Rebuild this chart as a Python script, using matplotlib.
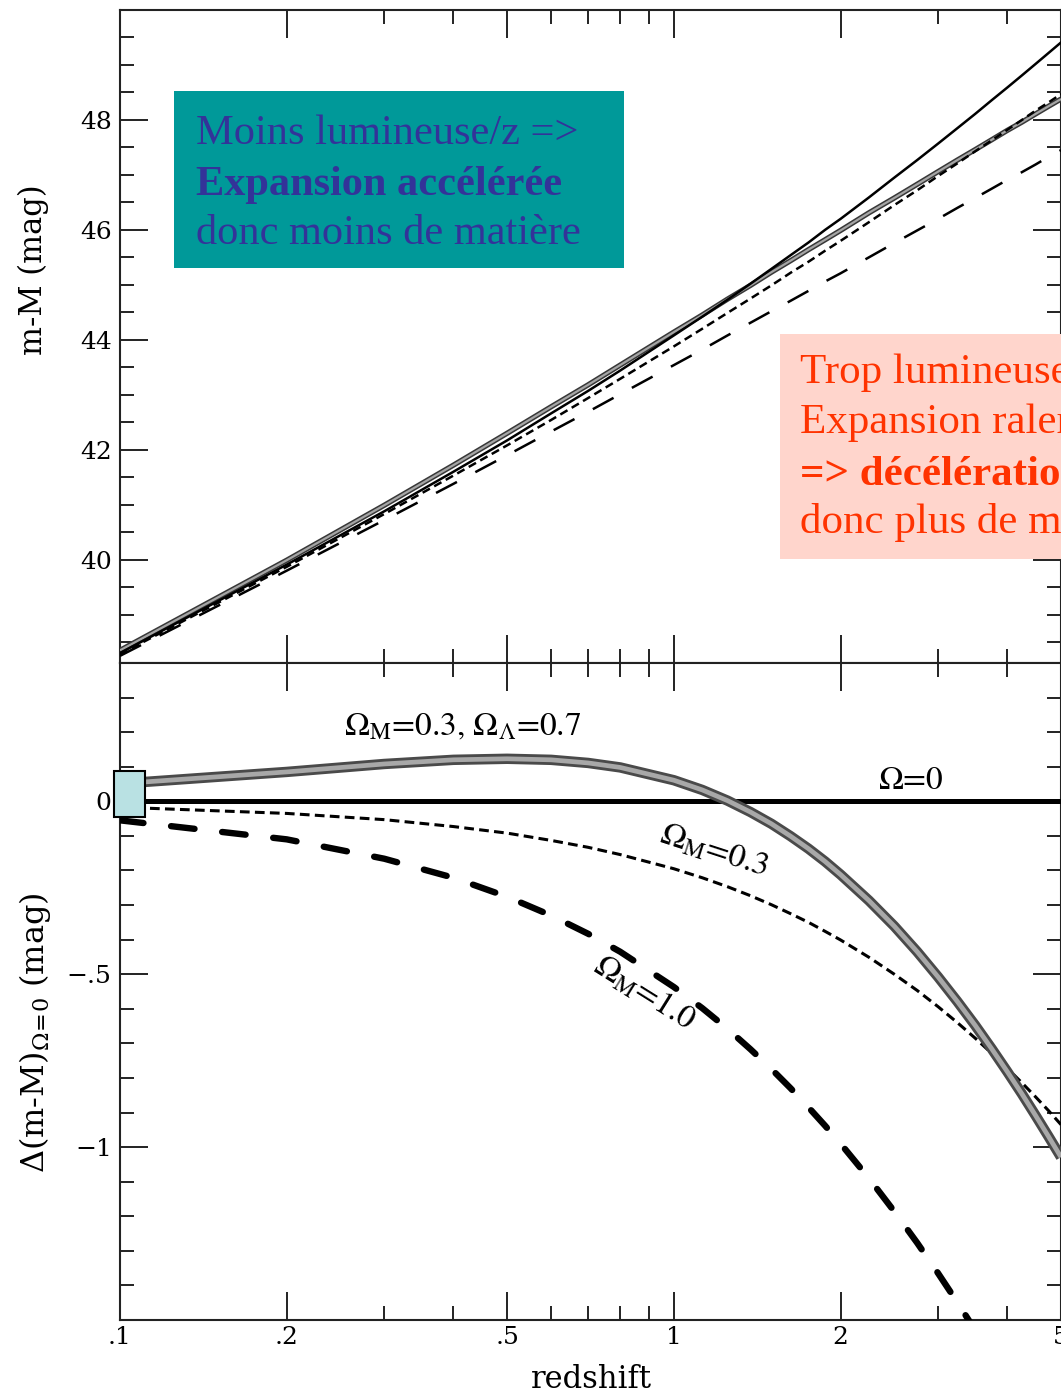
import matplotlib
matplotlib.use('Agg')
import matplotlib.pyplot as plt
from matplotlib.patches import Rectangle
from matplotlib.ticker import FixedLocator, FixedFormatter, NullFormatter

plt.rcParams['lines.scale_dashes'] = False

# ---------------- data ----------------
z = [0.1, 0.2, 0.3, 0.4, 0.5, 0.6, 0.7, 0.8, 1.0, 1.125, 1.25, 1.375, 1.5, 1.625,
     1.75, 1.875, 2.0, 2.25, 2.5, 2.75, 3.0, 3.25, 3.5, 3.75, 4.0, 4.25, 4.5, 4.75, 5.0]

# top panel: distance modulus m-M
mM_empty = [38.30, 39.91, 40.88, 41.60, 42.17, 42.66, 43.07, 43.44, 44.08, 44.42,
            44.73, 45.02, 45.29, 45.54, 45.77, 46.00, 46.20, 46.59, 46.95, 47.27,
            47.57, 47.85, 48.11, 48.36, 48.59, 48.81, 49.02, 49.22, 49.41]
mM_lcdm = [38.35, 39.99, 40.99, 41.72, 42.30, 42.78, 43.18, 43.54, 44.14, 44.45,
           44.74, 44.99, 45.23, 45.44, 45.64, 45.82, 45.99, 46.31, 46.58, 46.83,
           47.06, 47.27, 47.46, 47.64, 47.81, 47.96, 48.11, 48.25, 48.38]
mM_open = [38.28, 39.87, 40.83, 41.53, 42.08, 42.54, 42.94, 43.29, 43.88, 44.20,
           44.49, 44.75, 44.99, 45.22, 45.42, 45.62, 45.80, 46.14, 46.45, 46.72,
           46.98, 47.21, 47.43, 47.63, 47.82, 48.00, 48.17, 48.32, 48.47]
mM_flat = [38.25, 39.80, 40.72, 41.38, 41.90, 42.33, 42.69, 43.01, 43.54, 43.82,
           44.08, 44.31, 44.52, 44.71, 44.89, 45.06, 45.21, 45.50, 45.76, 45.99,
           46.20, 46.40, 46.58, 46.75, 46.91, 47.05, 47.19, 47.33, 47.45]

# bottom panel: difference to the empty (Omega=0) universe
z_empty = [0.1, 5.0]
dm_empty = [0.0, 0.0]
dm_lcdm = [0.051, 0.085, 0.108, 0.120, 0.123, 0.120, 0.111, 0.098, 0.061, 0.033,
           0.002, -0.031, -0.065, -0.101, -0.137, -0.174, -0.212, -0.287, -0.361,
           -0.435, -0.508, -0.579, -0.648, -0.716, -0.782, -0.846, -0.909, -0.970, -1.029]
dm_open = [-0.017, -0.035, -0.053, -0.073, -0.092, -0.113, -0.133, -0.154, -0.195,
           -0.221, -0.247, -0.273, -0.299, -0.325, -0.350, -0.376, -0.401, -0.451,
           -0.500, -0.547, -0.594, -0.640, -0.685, -0.729, -0.772, -0.814, -0.855,
           -0.895, -0.935]
dm_flat = [-0.055, -0.110, -0.166, -0.221, -0.276, -0.330, -0.383, -0.435, -0.537,
           -0.598, -0.658, -0.717, -0.774, -0.830, -0.885, -0.938, -0.990, -1.090,
           -1.186, -1.277, -1.365, -1.449, -1.530, -1.608, -1.683, -1.756, -1.826,
           -1.893, -1.959]

# low-redshift data box
box_z = [0.0975, 0.111]
box_dm = [-0.046, 0.087]

# ticks
x_major = [0.1, 0.2, 0.5, 1, 2, 5]
x_major_labels = ['.1', '.2', '.5', '1', '2', '5']
x_minor = [0.3, 0.4, 0.6, 0.7, 0.8, 0.9, 3, 4]
y1_major = [40, 42, 44, 46, 48]
y1_major_labels = ['40', '42', '44', '46', '48']
y1_minor = [38.5, 39, 39.5, 40.5, 41, 41.5, 42.5, 43, 43.5, 44.5, 45, 45.5,
            46.5, 47, 47.5, 48.5, 49, 49.5]
y2_major = [-1.0, -0.5, 0.0]
y2_major_labels = ['\u22121', '\u2212.5', '0']
y2_minor = [-1.4, -1.3, -1.2, -1.1, -0.9, -0.8, -0.7, -0.6, -0.4, -0.3, -0.2,
            -0.1, 0.1, 0.2, 0.3]

# ---------------- layout ----------------
W, H = 1061, 1395
fig = plt.figure(figsize=(W / 100, H / 100), dpi=100)


def fx(x):
    return x / W


def fy(y):
    return 1 - y / H


L, R = 120, 1061
ax1 = fig.add_axes([fx(L), fy(663), fx(R) - fx(L), fy(10) - fy(663)])
ax2 = fig.add_axes([fx(L), fy(1320), fx(R) - fx(L), fy(663) - fy(1320)])

for ax in (ax1, ax2):
    ax.set_xscale('log')
    ax.set_xlim(0.1, 5)
    ax.xaxis.set_major_locator(FixedLocator(x_major))
    ax.xaxis.set_minor_locator(FixedLocator(x_minor))
    ax.xaxis.set_minor_formatter(NullFormatter())
    ax.tick_params(which='both', direction='in', top=True, right=True,
                   width=1.4, color='#222222')
    ax.tick_params(which='major', length=20)
    ax.tick_params(which='minor', length=10)
    ax.tick_params(axis='y', pad=6)
    ax.tick_params(axis='x', pad=4)
    for s in ax.spines.values():
        s.set_linewidth(1.5)
        s.set_color('#222222')

# top panel
ax1.set_ylim(38.12, 50)
ax1.yaxis.set_major_locator(FixedLocator(y1_major))
ax1.yaxis.set_major_formatter(FixedFormatter(y1_major_labels))
ax1.yaxis.set_minor_locator(FixedLocator(y1_minor))
ax1.xaxis.set_major_formatter(NullFormatter())

ax1.plot(z, mM_lcdm, color='#383838', lw=3.8, solid_capstyle='butt', zorder=3)
ax1.plot(z, mM_lcdm, color='#a5a5a5', lw=1.6, solid_capstyle='butt', zorder=3.1)
ax1.plot(z, mM_open, color='black', lw=1.8, dashes=(6, 3.5), zorder=3.5)
ax1.plot(z, mM_flat, color='black', lw=1.8, dashes=(17, 15), zorder=3.5)
ax1.plot(z, mM_empty, color='black', lw=1.8, zorder=4)

# bottom panel
ax2.set_ylim(-1.5, 0.4)
ax2.yaxis.set_major_locator(FixedLocator(y2_major))
ax2.yaxis.set_major_formatter(FixedFormatter(y2_major_labels))
ax2.yaxis.set_minor_locator(FixedLocator(y2_minor))
ax2.xaxis.set_major_formatter(FixedFormatter(x_major_labels))

ax2.plot(z_empty, dm_empty, color='black', lw=3.6, zorder=3)
ax2.plot(z, dm_open, color='black', lw=2.2, dashes=(7, 3.8), zorder=3)
ax2.plot(z, dm_flat, color='black', lw=4.6, dashes=(17, 20), dash_capstyle='round', zorder=3)
ax2.plot(z, dm_lcdm, color='#4a4a4a', lw=7.5, solid_capstyle='butt', zorder=4)
ax2.plot(z, dm_lcdm, color='#a8a8a8', lw=3.4, solid_capstyle='butt', zorder=4.1)

ax2.add_patch(Rectangle((box_z[0], box_dm[0]), box_z[1] - box_z[0], box_dm[1] - box_dm[0],
                        facecolor='#b9e1e3', edgecolor='black', lw=1.5,
                        clip_on=False, zorder=10))

for ax in (ax1, ax2):
    for lab in ax.get_xticklabels() + ax.get_yticklabels():
        lab.set_fontfamily('DejaVu Serif')
        lab.set_fontsize(18)

lab_kw = dict(family='STIXGeneral', math_fontfamily='stix', fontsize=24, color='black')
ax2.text(0.254, 0.19, r'$\Omega_\mathrm{M}$=0.3, $\Omega_\Lambda$=0.7', ha='left',
         va='baseline', **lab_kw)
ax2.text(2.34, 0.035, r'$\Omega$=0', ha='left', va='baseline', **lab_kw)
ax2.text(1.18, -0.145, r'$\Omega_\mathrm{M}$=0.3', rotation=-18, rotation_mode='anchor',
         ha='center', va='center', **lab_kw)
ax2.text(0.883, -0.554, r'$\Omega_\mathrm{M}$=1.0', rotation=-32, rotation_mode='anchor',
         ha='center', va='center', **lab_kw)

# axis labels
fig.text(fx(591), fy(1388), 'redshift', family='DejaVu Serif', fontsize=22,
         ha='center', va='baseline')
fig.text(fx(33), fy(270), 'm-M (mag)', family='DejaVu Serif', fontsize=22,
         rotation=90, ha='center', va='center')
fig.text(fx(35), fy(1033), r'$\Delta$(m-M)$_{\Omega\!=\!0}$ (mag)', family='DejaVu Serif',
         math_fontfamily='dejavuserif', fontsize=23, rotation=90, ha='center', va='center')

# annotation boxes
fig.add_artist(Rectangle((fx(174), fy(268)), fx(624) - fx(174), fy(91) - fy(268),
                         transform=fig.transFigure, facecolor='#009999',
                         edgecolor='none', zorder=5))
tk = dict(family='Liberation Serif', fontsize=30.5, color='#333399', va='baseline',
          ha='left', zorder=6)
fig.text(fx(196), fy(144), 'Moins lumineuse/z =>', **tk)
fig.text(fx(196), fy(195), 'Expansion accélérée', fontweight='bold', **tk)
fig.text(fx(196), fy(244), 'donc moins de matière', **tk)

fig.add_artist(Rectangle((fx(780), fy(559)), fx(1200) - fx(780), fy(334) - fy(559),
                         transform=fig.transFigure, facecolor='#ffd5cc',
                         edgecolor='none', zorder=5))
pk = dict(family='Liberation Serif', fontsize=31, color='#ff3300', va='baseline',
          ha='left', zorder=6)
fig.text(fx(800), fy(383), 'Trop lumineuse/z =>', **pk)
fig.text(fx(800), fy(433), 'Expansion ralentie', **pk)
fig.text(fx(800), fy(485), '=> décélération', fontweight='bold', **pk)
fig.text(fx(800), fy(533), 'donc plus de matière', **pk)

fig.savefig('out.png', dpi=100)
